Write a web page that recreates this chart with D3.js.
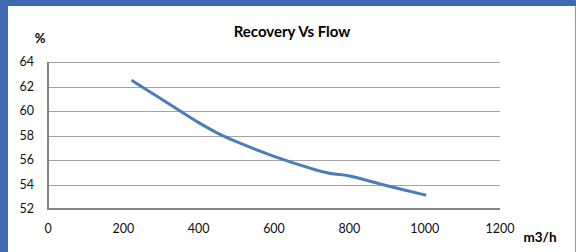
<!DOCTYPE html>
<html>
<head>
<meta charset="utf-8">
<script src="https://cdn.jsdelivr.net/npm/d3@7"></script>
<style>
  html, body { margin: 0; padding: 0; background: #fff; }
  svg { display: block; font-family: Lato, "Open Sans", sans-serif; }
</style>
</head>
<body>
<svg id="chart" width="576" height="252"></svg>
<script>
// data
var flow = [225, 300, 400, 450, 500, 600, 700, 750, 800, 900, 1000];
var recovery = [62.45, 61.0, 59.05, 58.2, 57.5, 56.3, 55.3, 54.9, 54.7, 53.9, 53.15];
var xTicks = [0, 200, 400, 600, 800, 1000, 1200];
var yTicks = [52, 54, 56, 58, 60, 62, 64];

var svg = d3.select('#chart');

// frame: blue band top/left, white chart area
svg.append('rect').attr('width', 576).attr('height', 252).attr('fill', '#3f69b0');
svg.append('rect')
  .attr('x', 8).attr('y', 6)
  .attr('width', 568).attr('height', 246)
  .attr('fill', '#fff');
svg.append('line')
  .attr('x1', 575.5).attr('x2', 575.5).attr('y1', 6).attr('y2', 252)
  .attr('stroke', '#9a9a9a').attr('stroke-width', 1);

var plot = { left: 48, top: 62, right: 500, bottom: 209 };

var x = d3.scaleLinear().domain([0, 1200]).range([plot.left, plot.right]);
var y = d3.scaleLinear().domain([52, 64]).range([plot.bottom, plot.top]);

// gridlines
svg.append('g')
  .selectAll('line')
  .data(yTicks.filter(function (d) { return d !== 52; }))
  .enter()
  .append('line')
  .attr('x1', plot.left).attr('x2', plot.right)
  .attr('y1', function (d) { return Math.round(y(d)) + 0.5; })
  .attr('y2', function (d) { return Math.round(y(d)) + 0.5; })
  .attr('stroke', '#a3a3a3')
  .attr('stroke-width', 1.2);

// axes lines
svg.append('line')
  .attr('x1', plot.left).attr('x2', plot.right)
  .attr('y1', plot.bottom).attr('y2', plot.bottom)
  .attr('stroke', '#858585').attr('stroke-width', 2);
svg.append('line')
  .attr('x1', plot.left).attr('x2', plot.left)
  .attr('y1', plot.top).attr('y2', plot.bottom + 1)
  .attr('stroke', '#858585').attr('stroke-width', 2);

// tick labels
svg.append('g')
  .selectAll('text')
  .data(yTicks)
  .enter()
  .append('text')
  .attr('x', 34)
  .attr('y', function (d) { return y(d); })
  .attr('dy', '0.35em')
  .attr('text-anchor', 'end')
  .attr('font-size', 12.5)
  .attr('fill', '#111')
  .text(function (d) { return d; });

svg.append('g')
  .selectAll('text')
  .data(xTicks)
  .enter()
  .append('text')
  .attr('x', function (d) { return x(d); })
  .attr('y', 229)
  .attr('dy', '0.35em')
  .attr('text-anchor', 'middle')
  .attr('font-size', 12.5)
  .attr('fill', '#111')
  .text(function (d) { return d; });

// series
var pts = flow.map(function (f, i) { return { x: f, y: recovery[i] }; });
var line = d3.line()
  .curve(d3.curveCatmullRom)
  .x(function (d) { return x(d.x); })
  .y(function (d) { return y(d.y); });

svg.append('path')
  .attr('d', line(pts))
  .attr('fill', 'none')
  .attr('stroke', '#4a7ebb')
  .attr('stroke-width', 3)
  .attr('stroke-linecap', 'square');

// titles
svg.append('text')
  .attr('x', 292).attr('y', 37)
  .attr('text-anchor', 'middle')
  .attr('font-size', 15)
  .attr('font-weight', 'bold')
  .attr('fill', '#000')
  .text('Recovery Vs Flow');

svg.append('text')
  .attr('x', 40).attr('y', 38)
  .attr('dy', '0.35em')
  .attr('text-anchor', 'middle')
  .attr('font-size', 13)
  .attr('font-weight', 'bold')
  .attr('fill', '#000')
  .text('%');

svg.append('text')
  .attr('x', 540).attr('y', 237)
  .attr('dy', '0.35em')
  .attr('text-anchor', 'middle')
  .attr('font-size', 13.5)
  .attr('font-weight', 'bold')
  .attr('fill', '#000')
  .text('m3/h');
</script>
</body>
</html>
